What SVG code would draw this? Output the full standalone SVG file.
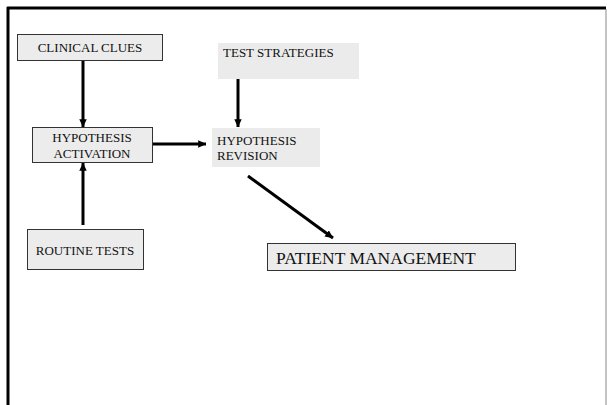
<svg xmlns="http://www.w3.org/2000/svg" width="607" height="405" viewBox="0 0 607 405">
<style>
.box{fill:#ececec;stroke:#333;stroke-width:1}
.plain{fill:#ebebeb;stroke:none}
.t{font-family:"Liberation Serif","Times New Roman",serif;font-size:13px;fill:#111}
.big{font-size:17.5px}
.c{text-anchor:middle}
.con{stroke:#000;stroke-width:3;fill:none}
</style>
<defs>
<marker id="ah" markerWidth="3" markerHeight="3" refX="2.6" refY="1.25" orient="auto" markerUnits="strokeWidth">
<path d="M0,0 L2.7,1.25 L0,2.5 Z" fill="#000"/>
</marker>
</defs>
<rect width="607" height="405" fill="#fff"/>
<g id="frame">
<line x1="7" y1="8" x2="606" y2="8" stroke="#000" stroke-width="3"/>
<line x1="8" y1="7" x2="8" y2="405" stroke="#000" stroke-width="3"/>
<line x1="606" y1="9" x2="606" y2="405" stroke="#888" stroke-width="1"/>
</g>
<g id="connectors">
<line class="con" x1="83" y1="60" x2="83" y2="127" marker-end="url(#ah)"/>
<line class="con" x1="83" y1="225" x2="83" y2="163" marker-end="url(#ah)"/>
<line class="con" x1="153" y1="144" x2="206" y2="144" marker-end="url(#ah)"/>
<line class="con" x1="238" y1="78" x2="238" y2="127" marker-end="url(#ah)"/>
<line class="con" x1="248" y1="176" x2="333" y2="238" marker-end="url(#ah)"/>
</g>
<g id="clinical-clues">
<rect class="box" x="17.5" y="34.5" width="145" height="26"/>
<text class="t c" x="90" y="52">CLINICAL CLUES</text>
</g>
<g id="hypothesis-activation">
<rect class="box" x="32.5" y="127.5" width="120" height="35"/>
<text class="t c" x="92" y="142">HYPOTHESIS</text>
<text class="t c" x="92" y="158">ACTIVATION</text>
</g>
<g id="routine-tests">
<rect class="box" x="27.5" y="229.5" width="116" height="40"/>
<text class="t c" x="85" y="255">ROUTINE TESTS</text>
</g>
<g id="test-strategies">
<rect class="plain" x="218" y="43" width="141" height="36"/>
<text class="t" x="223" y="57">TEST STRATEGIES</text>
</g>
<g id="hypothesis-revision">
<rect class="plain" x="212" y="128" width="108" height="39"/>
<text class="t" x="217" y="145">HYPOTHESIS</text>
<text class="t" x="217" y="160">REVISION</text>
</g>
<g id="patient-management">
<rect class="box" x="267.5" y="243.5" width="248" height="27"/>
<text class="t big" x="276" y="264">PATIENT MANAGEMENT</text>
</g>
</svg>
